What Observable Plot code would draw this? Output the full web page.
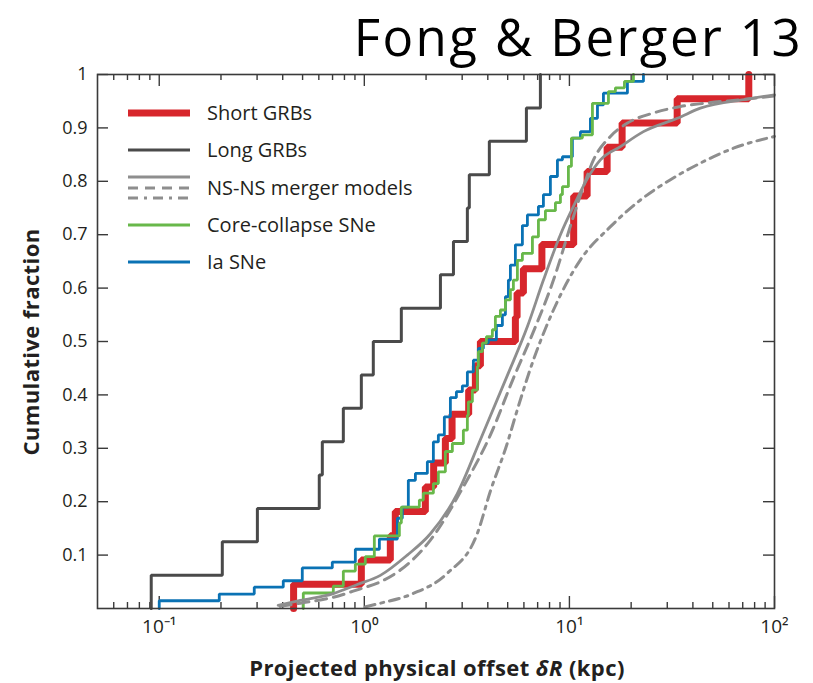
<!DOCTYPE html>
<html><head><meta charset="utf-8">
<script src="https://cdn.jsdelivr.net/npm/d3@7"></script>
<script src="https://cdn.jsdelivr.net/npm/@observablehq/plot@0.6"></script>
<style>
body{margin:0;background:#fff;}
#wrap{position:relative;width:813px;height:683px;font-family:"Open Sans",sans-serif;color:#231f20;overflow:hidden;}
#title{position:absolute;right:10px;top:1px;font-size:51px;letter-spacing:2.4px;font-family:"Open Sans",sans-serif;color:#000;white-space:nowrap;}
#ytitle{position:absolute;left:30px;top:342px;transform:translate(-50%,-50%) rotate(-90deg);font-weight:bold;font-size:22px;letter-spacing:0.4px;white-space:nowrap;}
#xtitle{position:absolute;left:437px;top:667px;transform:translate(-50%,-50%);font-weight:bold;font-size:22px;letter-spacing:0.4px;white-space:nowrap;}
#legend{position:absolute;left:0;top:0;}
</style></head>
<body><div id="wrap"><div id="chart"></div>
<div id="title">Fong &amp; Berger 13</div>
<div id="ytitle">Cumulative fraction</div>
<div id="xtitle">Projected physical offset <i>δR</i> (kpc)</div>
<svg id="legend" width="813" height="683"></svg>
</div>
<script>
// ---- data (offsets in kpc, cumulative fraction) ----
const shortX = [0.452,0.967,1.339,1.416,1.984,2.178,2.484,2.678,3.227,3.479,3.681,5.452,5.557,5.965,7.342,10.49,12.20,15.27,18.07,33.53,74.93];
const shortY = [0.0455,0.0909,0.1364,0.1818,0.2273,0.2727,0.3182,0.3636,0.4091,0.4545,0.5,0.5455,0.5909,0.6364,0.6818,0.7727,0.8182,0.8636,0.9091,0.9545,1.0];

const longX = [0.0914,0.203,0.301,0.603,0.624,0.790,0.967,1.106,1.515,2.35,2.72,3.18,3.25,4.07,6.17,7.22];
const longY = [0.0625,0.125,0.1875,0.25,0.3125,0.375,0.4375,0.5,0.5625,0.625,0.6875,0.75,0.8125,0.875,0.9375,1.0];

const ccX = [0.504,0.706,0.790,0.904,1.011,1.119,1.482,1.515,1.855,1.940,2.171,2.296,2.484,2.687,3.04,3.18,3.216,3.364,3.557,3.598,3.763,3.937,4.211,4.355,4.607,4.874,5.155,5.331,5.576,5.898,6.601,7.062,7.637,8.546,9.040,9.245,9.888,10.23,11.57,12.95,15.50,16.76,18.55,20.52];
const ccY = [0.029,0.042,0.07,0.083,0.097,0.136,0.16,0.19,0.203,0.216,0.234,0.256,0.294,0.309,0.334,0.362,0.387,0.409,0.453,0.481,0.497,0.509,0.522,0.547,0.559,0.578,0.597,0.615,0.652,0.665,0.696,0.728,0.745,0.76,0.775,0.79,0.828,0.881,0.887,0.946,0.968,0.975,0.987,1.0];

const iaX = [0.100,0.1962,0.2906,0.4025,0.4983,0.698,0.904,1.184,1.449,1.532,1.639,1.774,2.029,2.171,2.296,2.456,2.628,2.811,3.006,3.18,3.402,3.598,3.806,4.026,4.405,4.712,4.874,5.04,5.155,5.452,5.898,6.239,7.062,7.468,8.077,8.740,9.245,10.34,11.32,12.66,13.70,14.65,19.18,22.96];
const iaY = [0.0145,0.027,0.040,0.052,0.076,0.087,0.111,0.13,0.169,0.19,0.24,0.253,0.275,0.312,0.325,0.359,0.395,0.406,0.417,0.443,0.465,0.487,0.497,0.503,0.53,0.55,0.584,0.615,0.643,0.681,0.717,0.737,0.753,0.775,0.809,0.84,0.846,0.881,0.893,0.918,0.943,0.965,0.987,1.0];

const nsSolidX = [0.38,0.487,0.706,0.924,1.197,1.62,2.10,2.84,3.68,4.99,6.24,7.47,9.04,10.46,12.24,14.16,17.74,22.96,33.6,43.5,73.8,100];
const nsSolidY = [0.006,0.015,0.028,0.045,0.062,0.10,0.14,0.215,0.316,0.437,0.528,0.615,0.70,0.753,0.805,0.84,0.865,0.893,0.918,0.937,0.954,0.962];
const nsDashX = [0.389,0.487,0.706,0.924,1.197,1.498,2.10,3.04,4.12,5.33,6.67,8.36,10.46,11.70,13.1,15.85,19.19,25.7,34.8,45.1,73.8,100];
const nsDashY = [0.004,0.010,0.021,0.035,0.05,0.072,0.128,0.228,0.325,0.431,0.518,0.615,0.734,0.79,0.84,0.884,0.909,0.928,0.94,0.946,0.954,0.96];
const nsDotX = [1.01,1.2,1.73,2.54,3.56,4.12,4.985,5.45,6.67,8.36,11.32,15.85,22.2,31.1,43.5,63.1,100];
const nsDotY = [0.003,0.01,0.028,0.066,0.141,0.22,0.31,0.36,0.465,0.559,0.653,0.715,0.765,0.803,0.834,0.862,0.884];

const majorX = [0.1, 1, 10, 100];
const xTickLabels = ["10\u207B\u00B9", "10\u2070", "10\u00B9", "10\u00B2"];
const minorX = [0.06,0.07,0.08,0.09,0.2,0.3,0.4,0.5,0.6,0.7,0.8,0.9,2,3,4,5,6,7,8,9,20,30,40,50,60,70,80,90];
const yTicks = [0.1,0.2,0.3,0.4,0.5,0.6,0.7,0.8,0.9,1];
const yTickLabels = ["0.1","0.2","0.3","0.4","0.5","0.6","0.7","0.8","0.9","1"];

const legendItems = ["Short GRBs","Long GRBs","NS-NS merger models","Core-collapse SNe","Ia SNe"];

// ---- colours ----
const cRed = "#d7262c", cLong = "#4a4a4a", cGray = "#8e8e8e", cGreen = "#68b84a", cBlue = "#0a72b4";

function steps(xs, ys) {
  return [{x: xs[0], y: 0}, ...xs.map((x, i) => ({x, y: ys[i]}))];
}
function pts(xs, ys) { return xs.map((x, i) => ({x, y: ys[i]})); }

const xTickData = majorX.map((v, i) => ({v, label: xTickLabels[i]}));
const yTickData = yTicks.map((v, i) => ({v, label: yTickLabels[i]}));

const W = 813, H = 683, mL = 97, mR = 39, mT = 74, mB = 75;
const PH = H - mT - mB, PW = W - mL - mR;
const axisColor = "#3a3a3a";

const chart = Plot.plot({
  width: W, height: H,
  marginLeft: mL, marginRight: mR, marginTop: mT, marginBottom: mB,
  style: {fontFamily: "'Open Sans', sans-serif", color: "#231f20", background: "#fff"},
  x: {type: "log", domain: [0.05, 100], axis: null},
  y: {domain: [0, 1], axis: null},
  marks: [
    // inward ticks
    Plot.ruleX(minorX, {x: d => d, insetTop: PH - 6, stroke: axisColor, strokeWidth: 1.4}),
    Plot.ruleX(minorX, {x: d => d, insetBottom: PH - 6, stroke: axisColor, strokeWidth: 1.4}),
    Plot.ruleX(majorX, {x: d => d, insetTop: PH - 12, stroke: axisColor, strokeWidth: 1.4}),
    Plot.ruleX(majorX, {x: d => d, insetBottom: PH - 12, stroke: axisColor, strokeWidth: 1.4}),
    Plot.ruleY(yTicks, {y: d => d, insetRight: PW - 11, stroke: axisColor, strokeWidth: 1.4}),
    Plot.ruleY(yTicks, {y: d => d, insetLeft: PW - 11, stroke: axisColor, strokeWidth: 1.4}),
    // tick labels
    Plot.text(xTickData, {x: "v", text: "label", frameAnchor: "bottom", lineAnchor: "top", dy: 11, fontSize: 19, fill: "#231f20"}),
    Plot.text(yTickData, {y: "v", text: "label", frameAnchor: "left", textAnchor: "end", dx: -10, fontSize: 18, fill: "#231f20"}),
    // data
    Plot.line(steps(shortX, shortY), {x: "x", y: "y", curve: "step-after", stroke: cRed, strokeWidth: 7, strokeLinejoin: "miter"}),
    Plot.line(steps(longX, longY), {x: "x", y: "y", curve: "step-after", stroke: cLong, strokeWidth: 3, strokeLinejoin: "miter"}),
    Plot.line(steps(iaX, iaY), {x: "x", y: "y", curve: "step-after", stroke: cBlue, strokeWidth: 2.8, strokeLinejoin: "miter"}),
    Plot.line(steps(ccX, ccY), {x: "x", y: "y", curve: "step-after", stroke: cGreen, strokeWidth: 2.8, strokeLinejoin: "miter"}),
    Plot.line(pts(nsDotX, nsDotY), {x: "x", y: "y", curve: "monotone-x", stroke: cGray, strokeWidth: 3, strokeDasharray: "10,6,3,6"}),
    Plot.line(pts(nsDashX, nsDashY), {x: "x", y: "y", curve: "monotone-x", stroke: cGray, strokeWidth: 3, strokeDasharray: "11,7"}),
    Plot.line(pts(nsSolidX, nsSolidY), {x: "x", y: "y", curve: "monotone-x", stroke: cGray, strokeWidth: 2.8}),
    Plot.frame({stroke: axisColor, strokeWidth: 1.6})
  ]
});
document.getElementById("chart").appendChild(chart);

// ---- legend ----
const lg = d3.select("#legend");
const rows = [
  {label: legendItems[0], y: 113, lines: [{y: 113, c: cRed, w: 7, d: null}]},
  {label: legendItems[1], y: 150, lines: [{y: 150, c: cLong, w: 3, d: null}]},
  {label: legendItems[2], y: 188, lines: [{y: 177, c: cGray, w: 3, d: null}, {y: 188, c: cGray, w: 3, d: "10,7"}, {y: 198, c: cGray, w: 3, d: "10,6,3,6"}]},
  {label: legendItems[3], y: 225, lines: [{y: 225, c: cGreen, w: 3, d: null}]},
  {label: legendItems[4], y: 262, lines: [{y: 262, c: cBlue, w: 3, d: null}]}
];
rows.forEach(r => {
  r.lines.forEach(l => {
    lg.append("line").attr("x1", 128).attr("x2", 190).attr("y1", l.y).attr("y2", l.y)
      .attr("stroke", l.c).attr("stroke-width", l.w).attr("stroke-dasharray", l.d);
  });
  lg.append("text").attr("x", 207).attr("y", r.y).attr("dy", "0.35em")
    .attr("font-size", 20).attr("font-family", "'Open Sans', sans-serif").attr("fill", "#231f20").text(r.label);
});
</script>
</body></html>
